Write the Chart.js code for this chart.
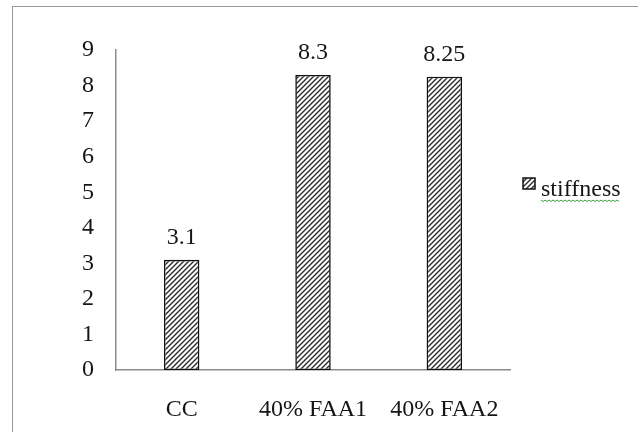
<!DOCTYPE html>
<html>
<head>
<meta charset="utf-8">
<script src="https://cdn.jsdelivr.net/npm/chart.js@4"></script>
<style>
  body { margin: 0; background: #fff; }
  #wrap { position: relative; width: 638px; height: 432px; }
  #frame { position: absolute; left: 12px; top: 6px; width: 640px; height: 440px; border: 1px solid #9a9a9a; box-sizing: border-box; }
  canvas { position: absolute; left: 0; top: 0; }
</style>
</head>
<body>
<div id="wrap">
  <div id="frame"></div>
  <canvas id="myChart" width="638" height="432"></canvas>
</div>
<script>
const categories = ['CC', '40% FAA1', '40% FAA2'];
const stiffness = [3.1, 8.3, 8.25];
const valueLabels = ['3.1', '8.3', '8.25'];
const yTicks = [0, 1, 2, 3, 4, 5, 6, 7, 8, 9];

const font = 'Liberation Serif, Times New Roman, serif';
const textColor = '#151515';

// diagonal hatch like the old excel fill
function hatch() {
  const c = document.createElement('canvas');
  c.width = 5;
  c.height = 5;
  const g = c.getContext('2d');
  g.fillStyle = '#fff';
  g.fillRect(0, 0, 5, 5);
  g.strokeStyle = '#2a2a2a';
  g.lineWidth = 1.4;
  g.beginPath();
  g.moveTo(-1, 6); g.lineTo(6, -1);
  g.moveTo(-3.5, 3.5); g.lineTo(3.5, -3.5);
  g.moveTo(1.5, 8.5); g.lineTo(8.5, 1.5);
  g.stroke();
  return g.createPattern(c, 'repeat');
}
const fill = hatch();

// numbers above the bars
const valuePlugin = {
  id: 'values',
  afterDatasetsDraw(chart) {
    const ctx = chart.ctx;
    const meta = chart.getDatasetMeta(0);
    ctx.save();
    ctx.font = '24px ' + font;
    ctx.fillStyle = textColor;
    ctx.textAlign = 'center';
    ctx.textBaseline = 'bottom';
    meta.data.forEach((bar, i) => {
      ctx.fillText(valueLabels[i], bar.x, bar.y - 10);
    });
    ctx.restore();
  }
};

// legend on the right, with the spellcheck squiggle
const legendPlugin = {
  id: 'sideLegend',
  afterDraw(chart) {
    const ctx = chart.ctx;
    const x = 523, y = 178;
    ctx.save();
    ctx.fillStyle = fill;
    ctx.fillRect(x, y, 12, 11);
    ctx.strokeStyle = '#111';
    ctx.lineWidth = 1.5;
    ctx.strokeRect(x, y, 12, 11);
    ctx.font = '24px ' + font;
    ctx.fillStyle = textColor;
    ctx.textBaseline = 'alphabetic';
    const label = chart.data.datasets[0].label;
    ctx.fillText(label, 541, 196);
    const w = ctx.measureText(label).width;
    ctx.strokeStyle = '#3a9a3a';
    ctx.lineWidth = 1;
    ctx.beginPath();
    for (let px = 0; px <= w; px += 2) {
      const py = 200 + ((px / 2) % 2 === 0 ? 0 : 1.5);
      if (px === 0) ctx.moveTo(541 + px, py); else ctx.lineTo(541 + px, py);
    }
    ctx.stroke();
    ctx.restore();
  }
};

const chart = new Chart(document.getElementById('myChart'), {
  type: 'bar',
  data: {
    labels: categories,
    datasets: [{
      label: 'stiffness',
      data: stiffness,
      backgroundColor: fill,
      borderColor: '#111',
      borderWidth: 1.6,
      borderSkipped: false,
      barPercentage: 0.27,
      categoryPercentage: 1
    }]
  },
  options: {
    responsive: false,
    animation: false,
    layout: { padding: { top: 50, right: 128, left: 0, bottom: 0 } },
    plugins: { legend: { display: false }, tooltip: { enabled: false } },
    scales: {
      x: {
        grid: { display: false },
        border: { display: true, color: '#8c8c8c', width: 1.5 },
        ticks: { color: textColor, font: { family: font, size: 24 }, padding: 17, maxRotation: 0 },
        afterFit(scale) { scale.height = 62; }
      },
      y: {
        min: 0,
        max: 9,
        afterBuildTicks(scale) { scale.ticks = yTicks.map(v => ({ value: v })); },
        grid: { display: false },
        border: { display: true, color: '#8c8c8c', width: 1.5 },
        ticks: { color: textColor, font: { family: font, size: 24 }, padding: 14 },
        afterFit(scale) { scale.width = 116; }
      }
    }
  },
  plugins: [valuePlugin, legendPlugin]
});
</script>
</body>
</html>
